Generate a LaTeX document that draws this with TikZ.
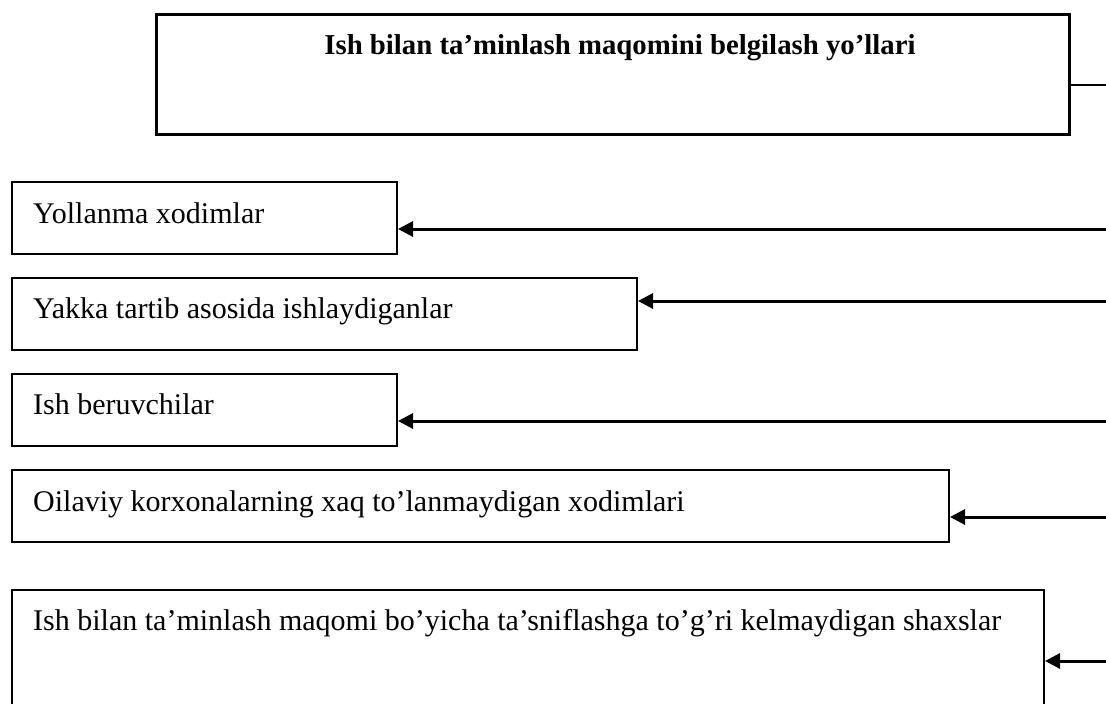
\documentclass[tikz,border=0pt]{standalone}
\usepackage{fontspec}
\setmainfont{Liberation Serif}
\usetikzlibrary{arrows.meta}
\begin{document}
\begin{tikzpicture}[x=1pt,y=-1pt,
  box/.style={draw, line width=2pt, anchor=north west, inner sep=0pt},
  headbox/.style={draw, line width=2.5pt, anchor=north west, inner sep=0pt},
  txt/.style={anchor=base west, inner sep=0pt, font=\fontsize{30}{36}\selectfont},
  arr/.style={line width=3pt, -{Triangle[length=15pt,width=15pt]}},
  link/.style={line width=2.5pt}]
  \clip (0,0) rectangle (1106,704);
  \path[fill=white] (0,0) rectangle (1106,704);

  % heading box
  \node[headbox, minimum width=913pt, minimum height=120pt] (head) at (155,13) {};
  \node[anchor=base, inner sep=0pt, font=\fontsize{28.8}{36}\selectfont\bfseries] (headtxt) at (620,54) {Ish bilan ta’minlash maqomini belgilash yo’llari};
  \coordinate (hout) at (1106,85);
  \draw[link] (hout -| head.east) -- (hout);

  % category boxes
  \node[box, minimum width=385pt, minimum height=72pt] (b1) at (11,181) {};
  \node[txt] (t1) at (33,223) {Yollanma xodimlar};
  \node[box, minimum width=625pt, minimum height=72pt] (b2) at (11,277) {};
  \node[txt] (t2) at (33,318) {Yakka tartib asosida ishlaydiganlar};
  \node[box, minimum width=385pt, minimum height=72pt] (b3) at (11,373) {};
  \node[txt] (t3) at (33,414) {Ish beruvchilar};
  \node[box, minimum width=937pt, minimum height=72pt] (b4) at (11,469) {};
  \node[txt] (t4) at (33,511) {Oilaviy korxonalarning xaq to’lanmaydigan xodimlari};
  \node[box, minimum width=1032pt, minimum height=140pt] (b5) at (11,589) {};
  \node[txt] (t5) at (33,630) {Ish bilan ta’minlash maqomi bo’yicha ta’sniflashga to’g’ri kelmaydigan shaxslar};

  % incoming arrows from the right
  \coordinate (r1) at (1106,229);
  \coordinate (r2) at (1106,301);
  \coordinate (r3) at (1106,421);
  \coordinate (r4) at (1106,517);
  \coordinate (r5) at (1106,661);
  \draw[arr] (r1) -- (r1 -| b1.east);
  \draw[arr] (r2) -- (r2 -| b2.east);
  \draw[arr] (r3) -- (r3 -| b3.east);
  \draw[arr] (r4) -- (r4 -| b4.east);
  \draw[arr] (r5) -- (r5 -| b5.east);
\end{tikzpicture}
\end{document}
